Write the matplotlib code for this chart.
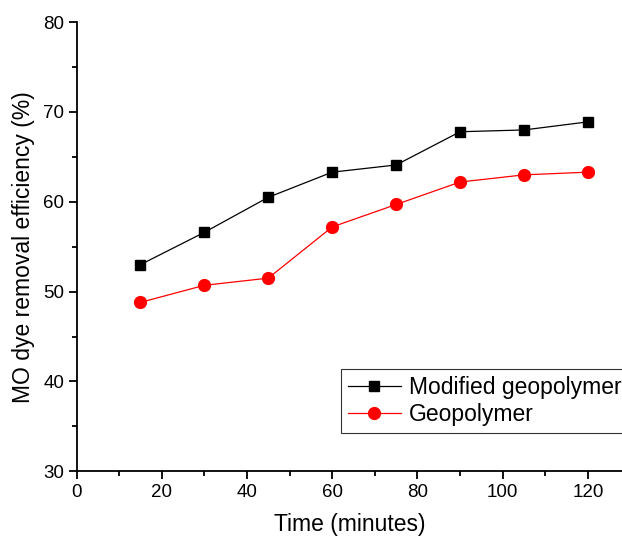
import matplotlib
matplotlib.use("Agg")
import matplotlib.pyplot as plt
from matplotlib.ticker import MultipleLocator

time = [15, 30, 45, 60, 75, 90, 105, 120]
modified = [53.0, 56.6, 60.5, 63.3, 64.1, 67.8, 68.0, 68.9]
geopolymer = [48.8, 50.7, 51.5, 57.2, 59.7, 62.2, 63.0, 63.3]

plt.rcParams['font.family'] = ['Liberation Sans', 'DejaVu Sans']

fig = plt.figure(figsize=(6.22, 5.41), dpi=100)
ax = fig.add_axes([0.123, 0.129, 0.877, 0.83])

ax.plot(time, modified, color='black', lw=0.9, marker='s', markersize=7.5,
        label='Modified geopolymer')
ax.plot(time, geopolymer, color='red', lw=0.9, marker='o', markersize=8.5,
        label='Geopolymer')

ax.set_xlim(0, 128)
ax.set_ylim(30, 80)
ax.xaxis.set_major_locator(MultipleLocator(20))
ax.xaxis.set_minor_locator(MultipleLocator(10))
ax.yaxis.set_major_locator(MultipleLocator(10))
ax.yaxis.set_minor_locator(MultipleLocator(5))
ax.spines['top'].set_visible(False)
ax.spines['right'].set_visible(False)
for s in ['left', 'bottom']:
    ax.spines[s].set_linewidth(1.3)
ax.tick_params(which='major', direction='out', length=6, width=1.3, labelsize=13.5, pad=3)
ax.tick_params(which='minor', direction='out', length=3.5, width=1.3)

ax.set_xlabel('Time (minutes)', fontsize=16.5, labelpad=9)
ax.set_ylabel('MO dye removal efficiency (%)', fontsize=16.5, labelpad=6)

leg = ax.legend(loc='lower left', bbox_to_anchor=(0.485, 0.085), fontsize=16.5,
                frameon=True, fancybox=False, edgecolor='black',
                handlelength=2.3, handletextpad=0.35, borderpad=0.3,
                labelspacing=0.2, borderaxespad=0)
leg.get_frame().set_linewidth(0.8)

fig.savefig('out.png', dpi=100)
